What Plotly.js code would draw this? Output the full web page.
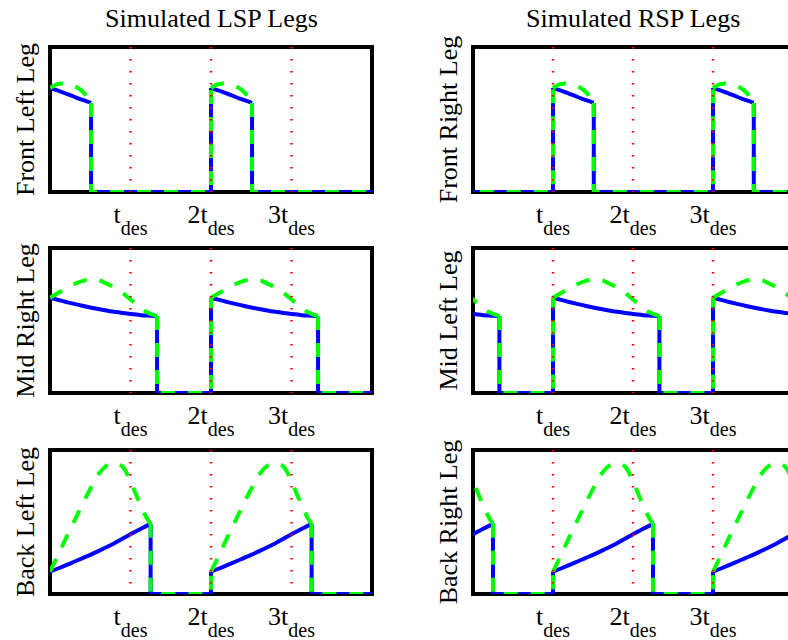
<!DOCTYPE html>
<html>
<head>
<meta charset="utf-8">
<script src="https://cdn.plot.ly/plotly-3.0.1.min.js"></script>
<style>
  html, body { margin: 0; padding: 0; overflow: hidden; background: #fff; }
  #chart { width: 800px; height: 640px; }
</style>
</head>
<body>
<div id="chart"></div>
<script>
// Time axis is expressed in multiples of the desired step period t_des
const tickVals = [1, 2, 3];
const tickMain = ['t', '2t', '3t'];
const tickSub = 'des';

const columnTitles = ['Simulated LSP Legs', 'Simulated RSP Legs'];
const rowLegNames = [
  ['Front Left Leg', 'Front Right Leg'],
  ['Mid Right Leg', 'Mid Left Leg'],
  ['Back Left Leg', 'Back Right Leg']
];

// Touchdown times of each support group (LSP / RSP)
const lspTouchdowns = [0, 2];
const rspTouchdowns = [-1, 1, 3];

// Stance profiles: time since touchdown, simulated force (blue), reference (green)
const frontTime      = [0, 0.05, 0.1, 0.15, 0.2, 0.25, 0.3, 0.35, 0.4, 0.45, 0.51];
const frontSimulated = [0.717, 0.708, 0.699, 0.689, 0.679, 0.668, 0.657, 0.646, 0.636, 0.626, 0.614];
const frontReference = [0.717, 0.735, 0.745, 0.749, 0.747, 0.741, 0.731, 0.716, 0.695, 0.665, 0.614];

const midTime      = [0, 0.1, 0.2, 0.3, 0.4, 0.5, 0.6, 0.7, 0.8, 0.9, 1.0, 1.1, 1.2, 1.33];
const midSimulated = [0.657, 0.642, 0.628, 0.615, 0.602, 0.59, 0.579, 0.569, 0.56, 0.552, 0.545, 0.539, 0.534, 0.531];
const midReference = [0.657, 0.69, 0.72, 0.75, 0.772, 0.784, 0.78, 0.755, 0.727, 0.69, 0.645, 0.6, 0.558, 0.531];

const backTime      = [0, 0.1, 0.2, 0.3, 0.4, 0.5, 0.6, 0.7, 0.8, 0.9, 1.0, 1.1, 1.2, 1.25];
const backSimulated = [0.155, 0.177, 0.2, 0.224, 0.248, 0.272, 0.298, 0.325, 0.353, 0.383, 0.415, 0.445, 0.473, 0.488];
const backReference = [0.155, 0.27, 0.39, 0.505, 0.62, 0.73, 0.83, 0.89, 0.91, 0.885, 0.78, 0.65, 0.53, 0.488];

const profiles = [
  { time: frontTime, sim: frontSimulated, ref: frontReference },
  { time: midTime,   sim: midSimulated,   ref: midReference },
  { time: backTime,  sim: backSimulated,  ref: backReference }
];
const columnTouchdowns = [lspTouchdowns, rspTouchdowns];

const X_RANGE = [0, 4];
const Y_RANGE = [0, 1];

// Page geometry (pixels)
const W = 800, H = 640;
const colPx = [[50, 372], [473, 793]];
const rowPx = [[47, 192], [248, 393], [450, 594]];

const FONT = 'Liberation Serif, Times New Roman, serif';
const BLUE = 'rgb(0,0,255)';
const GREEN = 'rgb(0,255,0)';
const RED = 'rgb(255,0,0)';

// Smooth stance arcs, one per touchdown, separated by gaps
function stanceArcs(touchdowns, time, values) {
  const x = [], y = [];
  touchdowns.forEach(function (s) {
    for (let i = 0; i < time.length; i++) { x.push(s + time[i]); y.push(values[i]); }
    x.push(null); y.push(null);
  });
  return { x: x, y: y };
}

// Lift-off drop, zero force during swing, and the touchdown jump
function swingPath(touchdowns, time, values) {
  const x = [], y = [];
  const last = time.length - 1;
  let px = X_RANGE[0] - 0.2;
  touchdowns.forEach(function (s) {
    if (s > X_RANGE[0]) {
      x.push(px, s, s); y.push(0, 0, values[0]);
      x.push(null); y.push(null);
    }
    x.push(s + time[last], s + time[last]); y.push(values[last], 0);
    px = s + time[last];
  });
  x.push(X_RANGE[1] + 0.2); y.push(0);
  return { x: x, y: y };
}

const tickText = tickMain.map(function (m) {
  return m + '<span style="font-size:20px;baseline-shift:-12px">' + tickSub + '</span>';
});

const traces = [];
const layout = {
  width: W, height: H,
  margin: { l: 0, r: 0, t: 0, b: 0 },
  paper_bgcolor: '#fff', plot_bgcolor: '#fff',
  showlegend: false,
  font: { family: FONT, size: 26, color: '#000' },
  shapes: [], annotations: []
};

let n = 0;
for (let r = 0; r < 3; r++) {
  for (let c = 0; c < 2; c++) {
    n++;
    const sfx = n === 1 ? '' : String(n);
    const xa = 'x' + sfx, ya = 'y' + sfx;
    const prof = profiles[r];
    const td = columnTouchdowns[c];

    const series = [
      { vals: prof.sim, line: { color: BLUE, width: 4 } },
      { vals: prof.ref, line: { color: GREEN, width: 4, dash: '14px,13px' } }
    ];
    series.forEach(function (sr) {
      const sw = swingPath(td, prof.time, sr.vals);
      const arc = stanceArcs(td, prof.time, sr.vals);
      traces.push({ type: 'scatter', mode: 'lines', x: sw.x, y: sw.y, xaxis: xa, yaxis: ya,
        line: sr.line, connectgaps: false, hoverinfo: 'skip' });
      traces.push({ type: 'scatter', mode: 'lines', x: arc.x, y: arc.y, xaxis: xa, yaxis: ya,
        line: Object.assign({ shape: 'spline', smoothing: 1 }, sr.line), connectgaps: false, hoverinfo: 'skip' });
    });

    // dotted markers at each multiple of t_des
    const gx = [], gy = [];
    tickVals.forEach(function (v) { gx.push(v, v, null); gy.push(Y_RANGE[1], Y_RANGE[0], null); });
    traces.push({ type: 'scatter', mode: 'lines', x: gx, y: gy, xaxis: xa, yaxis: ya,
      line: { color: RED, width: 2.5, dash: '1.5px,10.5px' }, hoverinfo: 'skip' });

    layout['xaxis' + sfx] = {
      domain: [colPx[c][0] / W, colPx[c][1] / W],
      anchor: ya, range: X_RANGE,
      showline: false, showgrid: false, zeroline: false, ticks: '',
      tickmode: 'array', tickvals: tickVals, ticktext: tickText,
      tickfont: { family: FONT, size: 26, color: '#000' },
      ticklabelstandoff: 4, fixedrange: true
    };
    layout['yaxis' + sfx] = {
      domain: [1 - rowPx[r][1] / H, 1 - rowPx[r][0] / H],
      anchor: xa, range: Y_RANGE,
      showline: false, showgrid: false, zeroline: false, ticks: '',
      showticklabels: false, fixedrange: true,
      title: { text: rowLegNames[r][c], font: { family: FONT, size: 26, color: '#000' }, standoff: 6 }
    };

    // heavy black frame round each panel
    layout.shapes.push({ type: 'rect', xref: xa + ' domain', yref: ya + ' domain',
      x0: 0, x1: 1, y0: 0, y1: 1, layer: 'below', line: { color: '#000', width: 4 } });
  }
}

columnTitles.forEach(function (t, c) {
  layout.annotations.push({
    text: t, showarrow: false, xref: 'paper', yref: 'paper',
    x: (colPx[c][0] + colPx[c][1]) / 2 / W, y: 1 - 19 / H,
    xanchor: 'center', yanchor: 'middle',
    font: { family: FONT, size: 26, color: '#000' }
  });
});

Plotly.newPlot('chart', traces, layout, { staticPlot: true, displayModeBar: false });
</script>
</body>
</html>
